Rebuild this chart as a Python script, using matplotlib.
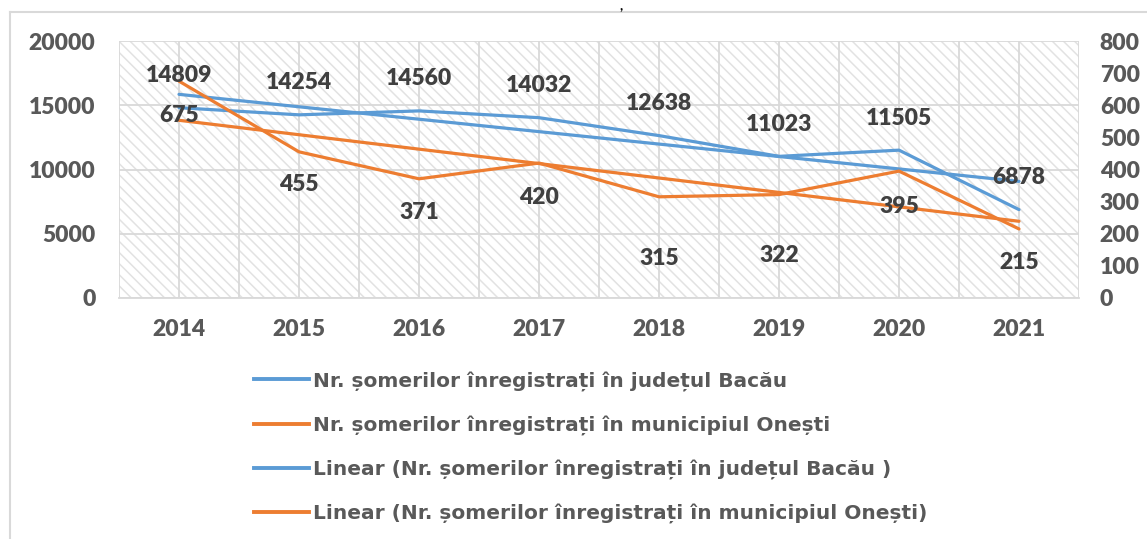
import matplotlib
matplotlib.use("Agg")
import matplotlib.pyplot as plt
import numpy as np
from matplotlib.patches import Rectangle
from matplotlib.lines import Line2D

years = ["2014", "2015", "2016", "2017", "2018", "2019", "2020", "2021"]
bacau = [14809, 14254, 14560, 14032, 12638, 11023, 11505, 6878]
onesti = [675, 455, 371, 420, 315, 322, 395, 215]

label_bacau = "Nr. șomerilor înregistrați în județul Bacău"
label_onesti = "Nr. șomerilor înregistrați în municipiul Onești"
label_bacau_trend = "Linear (Nr. șomerilor înregistrați în județul Bacău )"
label_onesti_trend = "Linear (Nr. șomerilor înregistrați în municipiul Onești)"

# vertical offset of the data labels, in pixels (negative = above)
bacau_label_dy = [-32] * 8
onesti_label_dy = [34, 33, 34, 34, 62, 61, 35, 34]

BLUE = "#5B9BD5"
ORANGE = "#ED7D31"
GRID = "#D9D9D9"
TICK = "#595959"
LABEL = "#404040"
NUM_WEIGHT = "heavy"

plt.rcParams["font.family"] = ["Lato", "DejaVu Sans"]
plt.rcParams["font.weight"] = "bold"
plt.rcParams["hatch.linewidth"] = 1.1

W, H = 1147, 539
fig = plt.figure(figsize=(W / 100, H / 100), dpi=100)
ax = fig.add_axes([119 / W, 1 - 298 / H, 960 / W, 257 / H])
ax2 = ax.twinx()

x = np.arange(len(years))

# hatched plot area
bg = Rectangle((0, 0), 1, 1, transform=ax.transAxes, facecolor="white",
               edgecolor="#E2E2E2", hatch="\\\\\\", linewidth=0, zorder=0)
ax.add_patch(bg)

# series + linear trends
ax.plot(x, bacau, color=BLUE, lw=2.3, solid_capstyle="round", zorder=3)
k, b = np.polyfit(x, bacau, 1)
ax.plot(x, k * x + b, color=BLUE, lw=2.3, solid_capstyle="round", zorder=3)

ax2.plot(x, onesti, color=ORANGE, lw=2.3, solid_capstyle="round", zorder=3)
k2, b2 = np.polyfit(x, onesti, 1)
ax2.plot(x, k2 * x + b2, color=ORANGE, lw=2.3, solid_capstyle="round", zorder=3)

for xi, v, dy in zip(x, bacau, bacau_label_dy):
    ax2.annotate(str(v), xy=(xi, v / 20000 * 800), xytext=(0, -dy),
                 textcoords="offset pixels", ha="center", va="center",
                 fontsize=16.5, fontweight=NUM_WEIGHT, color=LABEL, zorder=5)
for xi, v, dy in zip(x, onesti, onesti_label_dy):
    ax2.annotate(str(v), xy=(xi, v), xytext=(0, -dy),
                 textcoords="offset pixels", ha="center", va="center",
                 fontsize=16.5, fontweight=NUM_WEIGHT, color=LABEL, zorder=5)

ax.set_xlim(-0.5, 7.5)
ax.set_ylim(0, 20000)
ax.set_yticks(range(0, 20001, 5000))
ax2.set_ylim(0, 800)
ax2.set_yticks(range(0, 801, 100))
ax.set_xticks(x)
ax.set_xticklabels(years)
ax.set_xticks(np.arange(-0.5, 8, 1), minor=True)

ax.grid(True, which="both", axis="x", color=GRID, lw=1.3, zorder=1)
ax.grid(True, which="major", axis="y", color=GRID, lw=1.3, zorder=1)

for a in (ax, ax2):
    for s in a.spines.values():
        s.set_visible(False)
ax.spines["bottom"].set_visible(True)
ax.spines["bottom"].set_color(GRID)
ax.spines["bottom"].set_linewidth(1.3)

ax.tick_params(axis="both", which="both", length=0, colors=TICK, labelsize=16.5)
ax.tick_params(axis="y", pad=17)
ax.tick_params(axis="x", pad=15)
ax2.tick_params(axis="y", length=0, colors=TICK, labelsize=16.5, pad=15)
for lab in ax.get_xticklabels() + ax.get_yticklabels() + ax2.get_yticklabels():
    lab.set_fontweight(NUM_WEIGHT)

handles = [Line2D([], [], color=BLUE, lw=2.8),
           Line2D([], [], color=ORANGE, lw=2.8),
           Line2D([], [], color=BLUE, lw=2.8),
           Line2D([], [], color=ORANGE, lw=2.8)]
labels = [label_bacau, label_onesti, label_bacau_trend, label_onesti_trend]
leg = fig.legend(handles, labels, loc="upper left",
                 bbox_to_anchor=(254 / W, 1 - 371 / H), frameon=False,
                 borderpad=0, borderaxespad=0, handlelength=2.73,
                 handletextpad=0.2, labelspacing=1.2,
                 prop={"family": "DejaVu Sans", "size": 14.5, "weight": "bold"})
for t in leg.get_texts():
    t.set_color(TICK)

# outer chart border and stray comma at the top
fig.add_artist(Line2D([10 / W, 10 / W], [1 - 12 / H, 0], transform=fig.transFigure,
                      color=GRID, lw=1.5))
fig.add_artist(Line2D([10 / W, 1], [1 - 12 / H, 1 - 12 / H], transform=fig.transFigure,
                      color=GRID, lw=1.5))
fig.text(621 / W, 1 - 6 / H, ",", fontsize=10, ha="center", va="center", color="black")

fig.savefig("out.png", dpi=100)
